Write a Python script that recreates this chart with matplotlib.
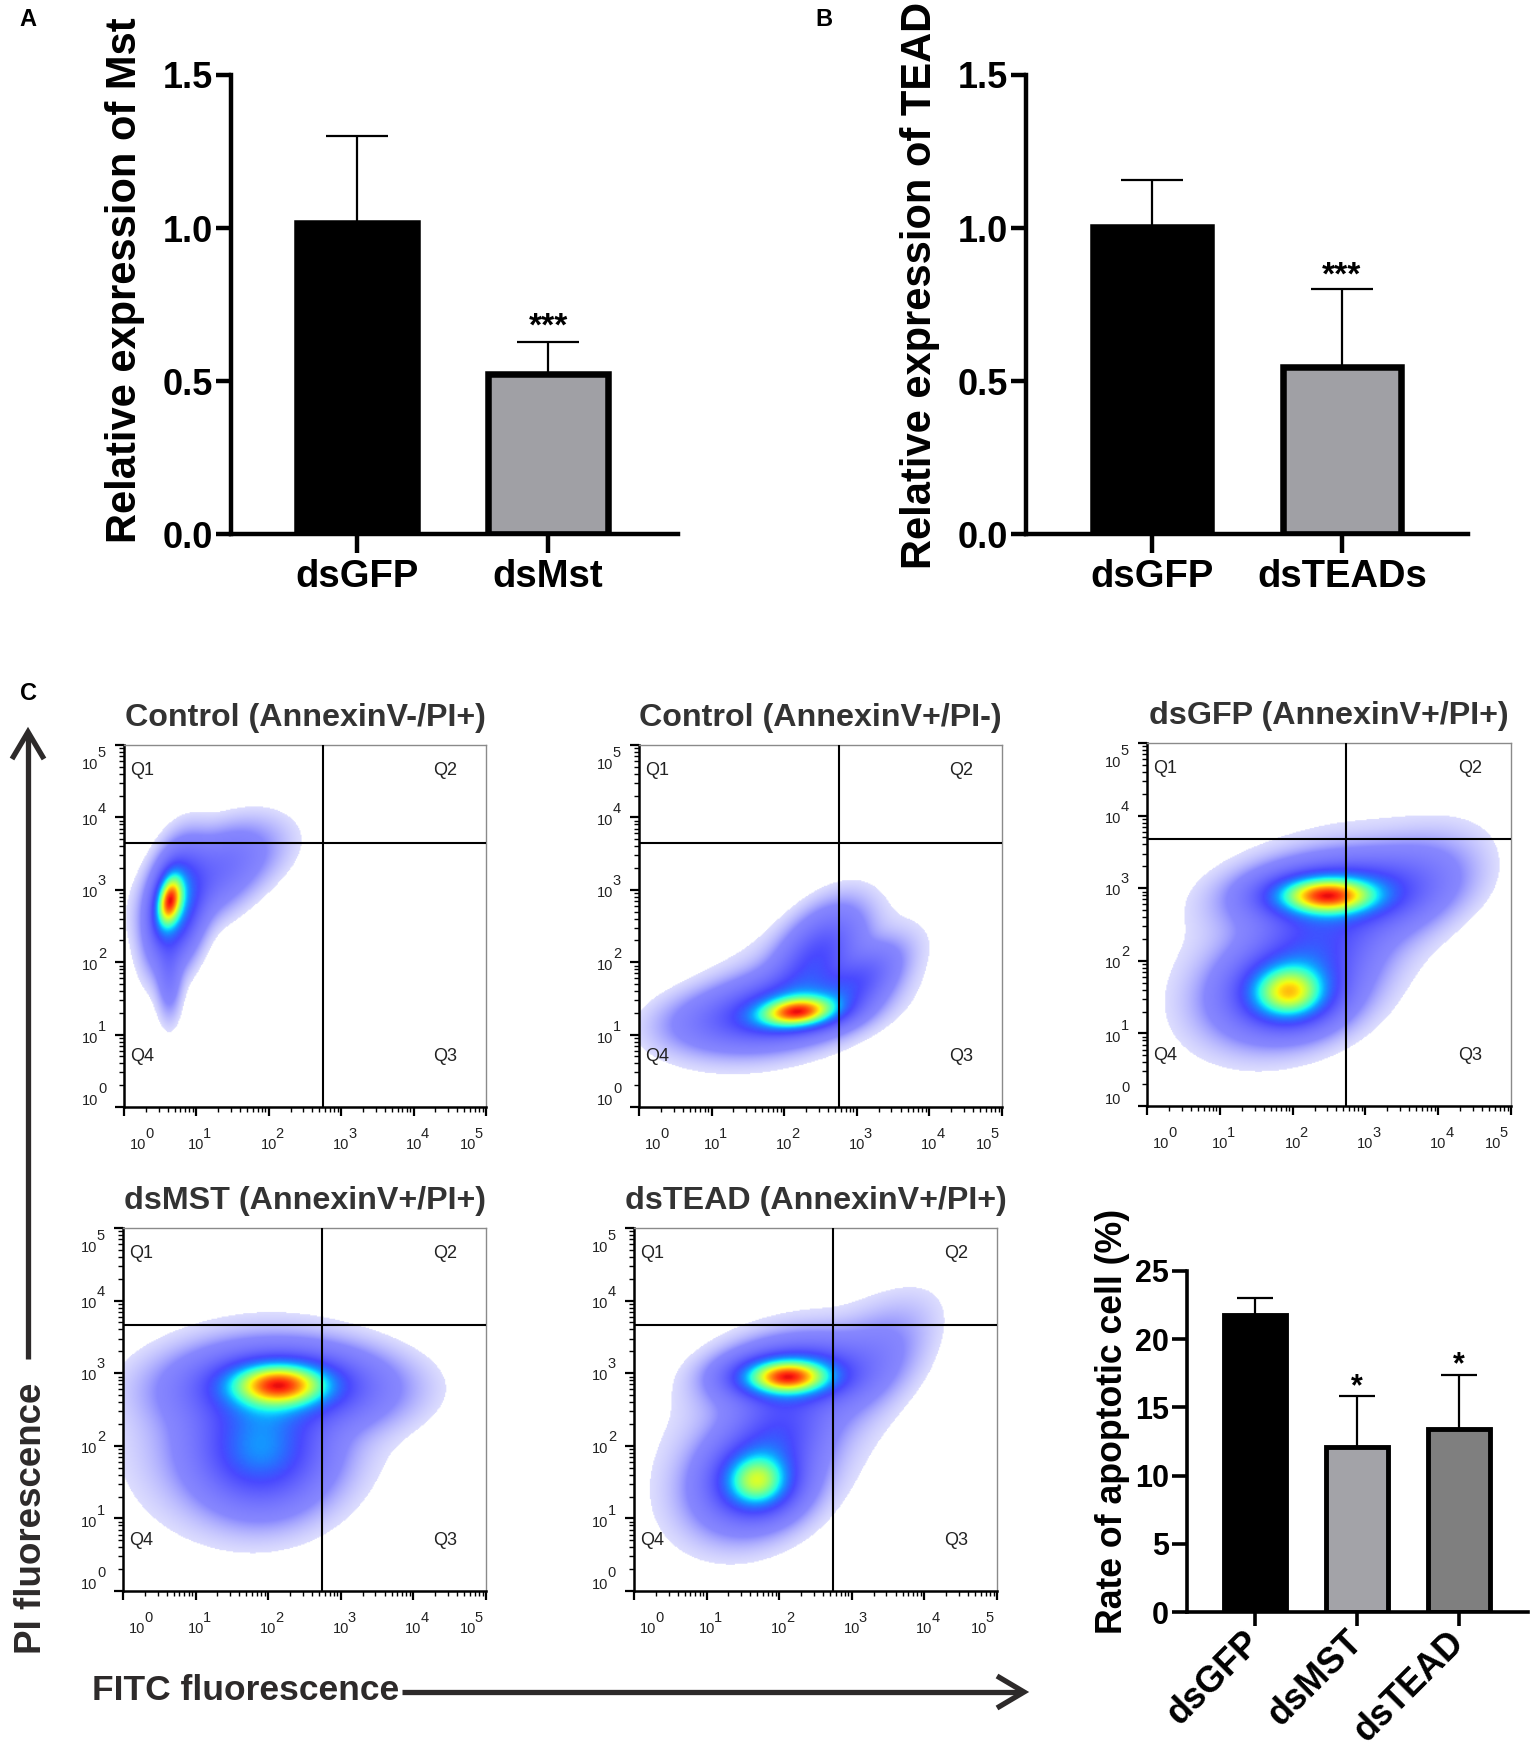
import numpy as np
import matplotlib
matplotlib.use("Agg")
import matplotlib.pyplot as plt
from matplotlib.lines import Line2D

plt.rcParams['font.family'] = ['Liberation Sans', 'DejaVu Sans']

W, H = 1535, 1748
fig = plt.figure(figsize=(W / 100, H / 100), dpi=100)

# ---------------- data ----------------
a_cats = ['dsGFP', 'dsMst']
a_vals = [1.015, 0.524]
a_errs = [0.285, 0.102]
a_stars = ['', '***']

b_cats = ['dsGFP', 'dsTEADs']
b_vals = [1.004, 0.546]
b_errs = [0.153, 0.254]
b_stars = ['', '***']

c_cats = ['dsGFP', 'dsMST', 'dsTEAD']
c_vals = [21.8, 12.1, 13.4]
c_errs = [1.2, 3.7, 4.0]
c_stars = ['', '*', '*']

expr_yticks = [0.0, 0.5, 1.0, 1.5]
rate_yticks = [0, 5, 10, 15, 20, 25]

flow_titles = ['Control (AnnexinV-/PI+)', 'Control (AnnexinV+/PI-)',
               'dsGFP (AnnexinV+/PI+)', 'dsMST (AnnexinV+/PI+)',
               'dsTEAD (AnnexinV+/PI+)']
quadrant_names = ['Q1', 'Q2', 'Q3', 'Q4']
decade_exponents = ['0', '1', '2', '3', '4', '5']
gate_x = [2.75, 2.75, 2.74, 2.74, 2.74]   # log10 FITC gate
gate_y = [3.65, 3.65, 3.68, 3.66, 3.66]   # log10 PI gate

# flow populations (log10 units):
# (centre FITC, centre PI, spread FITC, spread PI, correlation, relative height)
pop_control_pi = [(0.62, 2.85, 0.12, 0.25, 0.3, 1.00),
                  (0.72, 2.75, 0.22, 0.45, 0.3, 0.50),
                  (1.15, 3.15, 0.45, 0.38, 0.5, 0.16),
                  (0.62, 1.80, 0.10, 0.35, 0.0, 0.10),
                  (1.60, 3.50, 0.45, 0.30, 0.3, 0.04)]
pop_control_annexin = [(2.20, 1.30, 0.35, 0.14, 0.2, 1.00),
                       (2.00, 1.35, 0.60, 0.28, 0.35, 0.45),
                       (2.45, 2.05, 0.35, 0.40, 0.5, 0.30),
                       (3.00, 1.70, 0.35, 0.30, 0.6, 0.22),
                       (1.00, 1.20, 0.50, 0.25, 0.2, 0.07),
                       (2.20, 1.60, 0.90, 0.60, 0.5, 0.04)]
pop_dsgfp = [(2.45, 2.90, 0.45, 0.17, 0.0, 1.00),
             (2.60, 2.95, 0.70, 0.28, 0.2, 0.40),
             (1.95, 1.55, 0.35, 0.25, 0.0, 0.80),
             (1.90, 1.60, 0.55, 0.38, 0.2, 0.33),
             (2.30, 2.20, 0.50, 0.45, 0.3, 0.25),
             (3.40, 2.90, 0.60, 0.45, 0.5, 0.12),
             (2.20, 2.30, 1.00, 0.90, 0.4, 0.04)]
pop_dsmst = [(2.15, 2.85, 0.45, 0.20, 0.0, 1.00),
             (2.20, 2.80, 0.80, 0.32, 0.0, 0.45),
             (1.90, 1.95, 0.50, 0.45, 0.0, 0.50),
             (1.80, 2.20, 0.90, 0.75, 0.1, 0.08)]
pop_dstead = [(2.10, 2.95, 0.40, 0.16, 0.0, 1.00),
              (2.20, 3.00, 0.55, 0.27, 0.2, 0.40),
              (1.70, 1.50, 0.30, 0.25, 0.0, 0.65),
              (1.65, 1.55, 0.45, 0.40, 0.2, 0.33),
              (2.00, 2.20, 0.40, 0.40, 0.3, 0.22),
              (3.20, 3.10, 0.50, 0.50, 0.6, 0.08),
              (1.90, 2.20, 0.90, 0.90, 0.4, 0.04)]
flow_pops = [pop_control_pi, pop_control_annexin, pop_dsgfp, pop_dsmst, pop_dstead]

# ---------------- helpers ----------------
DARK = '#2d2a2a'


def px_ax(l, t, r, b):
    return fig.add_axes([l / W, 1 - b / H, (r - l) / W, (b - t) / H])


def bar_panel(ax, cats, vals, errs, stars, colors, width, lw, capsize,
              ylim, yticks, ytick_fmt, xlim, tick_fs, cat_fs, star_fs,
              star_off, rotate=False):
    x = np.arange(len(cats))
    ax.bar(x, vals, width=width, color=colors, edgecolor='black',
           linewidth=lw, zorder=2)
    ax.errorbar(x, vals, yerr=[np.zeros(len(vals)), errs], fmt='none',
                ecolor='black', elinewidth=1.6, capsize=capsize,
                capthick=1.6, zorder=1)
    for xi, v, e, s in zip(x, vals, errs, stars):
        if s:
            ax.text(xi, v + e + star_off, s, ha='center', va='center',
                    fontsize=star_fs, fontweight='bold')
    ax.set_xlim(*xlim)
    ax.set_ylim(*ylim)
    ax.set_yticks(yticks)
    ax.set_yticklabels([ytick_fmt.format(t) for t in yticks],
                       fontsize=tick_fs, fontweight='bold')
    ax.set_xticks(x)
    if rotate:
        ax.set_xticklabels(cats, fontsize=cat_fs, fontweight='bold',
                           rotation=45, ha='right', va='center',
                           rotation_mode='anchor')
    else:
        ax.set_xticklabels(cats, fontsize=cat_fs, fontweight='bold')
    for s in ['top', 'right']:
        ax.spines[s].set_visible(False)
    for s in ['left', 'bottom']:
        ax.spines[s].set_linewidth(3.2)
    ax.tick_params(axis='y', length=11, width=3.2, pad=2)
    ax.tick_params(axis='x', length=14, width=3.2, pad=4)
    ax.spines['left'].set_bounds(ylim[0], ylim[1])


# ---------------- panel A ----------------
axA = px_ax(231, 75, 678, 534)
bar_panel(axA, a_cats, a_vals, a_errs, a_stars, ['black', '#a0a0a5'],
          0.625, 4.7, 22, (0, 1.5), expr_yticks, '{:.1f}', (-0.66, 1.68),
          26, 27.5, 24, 0.05)
fig.text(125 / W, 1 - 280 / H, 'Relative expression of Mst', rotation=90,
         ha='center', va='center', fontsize=30, fontweight='bold')

# ---------------- panel B ----------------
axB = px_ax(1026, 75, 1468, 534)
bar_panel(axB, b_cats, b_vals, b_errs, b_stars, ['black', '#a0a0a5'],
          0.625, 4.7, 22, (0, 1.5), expr_yticks, '{:.1f}', (-0.663, 1.663),
          26, 27.5, 24, 0.042)
fig.text(920 / W, 1 - 285 / H, 'Relative expression of TEAD', rotation=90,
         ha='center', va='center', fontsize=30, fontweight='bold')

# ---------------- panel C bar ----------------
axC = px_ax(1187, 1271, 1528, 1612)
bar_panel(axC, c_cats, c_vals, c_errs, c_stars,
          ['black', '#a3a3a8', '#7f7f7f'], 0.6, 3.5, 13, (0, 25),
          rate_yticks, '{:d}', (-0.667, 2.676), 22, 26, 22, 0.7,
          rotate=True)
for s in ['left', 'bottom']:
    axC.spines[s].set_linewidth(2.6)
axC.tick_params(axis='y', length=11, width=2.6)
axC.tick_params(axis='x', length=10, width=2.6, pad=8)
fig.text(1112 / W, 1 - 1421 / H, 'Rate of apoptotic cell (%)', rotation=90,
         ha='center', va='center', fontsize=25.7, fontweight='bold')

# ---------------- flow plots ----------------
flow_rects = [(124, 745, 486, 1107), (639, 745, 1002, 1107),
              (1147, 743, 1511, 1106), (123, 1228, 486, 1591),
              (634, 1228, 997, 1591)]
xlab_pos = [0.2, 1.0, 2.0, 3.0, 4.0, 4.75]
ylab_pos = [0.08, 0.94, 1.95, 2.96, 3.95, 4.72]

grid = np.linspace(0, 5, 320)
GX, GY = np.meshgrid(grid, grid)
jet = plt.get_cmap('jet')
narrow = ['Liberation Sans Narrow', 'Liberation Sans', 'DejaVu Sans']
PT = 0.72  # points per pixel at 100 dpi

for i, rect in enumerate(flow_rects):
    ax = px_ax(*rect)
    dens = np.zeros_like(GX)
    for cx, cy, sx, sy, rho, amp in flow_pops[i]:
        dx = (GX - cx) / sx
        dy = (GY - cy) / sy
        q = (dx ** 2 - 2 * rho * dx * dy + dy ** 2) / (1 - rho ** 2)
        dens += amp * np.exp(-0.5 * q)
    d = dens / dens.max()
    cidx = 0.11 + 0.8 * np.clip((d - 0.2) / 0.8, 0, 1) ** 1.1
    rgba = jet(cidx)
    alpha = np.clip(d / 0.04, 0, 1) ** 0.6 * (0.42 + 0.53 * np.clip(d / 0.4, 0, 1))
    alpha[d < 0.006] = 0
    rgba[..., 3] = alpha
    ax.imshow(rgba, extent=(0, 5, 0, 5), origin='lower',
              interpolation='bilinear', aspect='auto', zorder=1)
    ax.axvline(gate_x[i], color='black', lw=1.5, zorder=3)
    ax.axhline(gate_y[i], color='black', lw=1.5, zorder=3)
    ax.set_xlim(0, 5)
    ax.set_ylim(0, 5)
    ax.set_xticks(range(6))
    ax.set_yticks(range(6))
    minors = [dd + np.log10(k) for dd in range(5) for k in range(2, 10)]
    ax.set_xticks(minors, minor=True)
    ax.set_yticks(minors, minor=True)
    ax.set_xticklabels([])
    ax.set_yticklabels([])
    ax.tick_params(which='major', direction='out', length=6.5, width=1.6,
                   color='black')
    ax.tick_params(which='minor', direction='out', length=3.5, width=1.0,
                   color='black')
    for s in ['left', 'bottom']:
        ax.spines[s].set_linewidth(1.8)
        ax.spines[s].set_color('black')
    for s in ['top', 'right']:
        ax.spines[s].set_linewidth(1.0)
        ax.spines[s].set_color('#8a8a8a')
    # decade labels
    for p, e in zip(xlab_pos, decade_exponents):
        ax.annotate('10', xy=(p, 0), xycoords=ax.get_xaxis_transform(),
                    xytext=(0, -38 * PT), textcoords='offset points',
                    ha='center', va='center', fontsize=10.5, family=narrow,
                    color='#222222')
        ax.annotate(e, xy=(p, 0), xycoords=ax.get_xaxis_transform(),
                    xytext=(11 * PT, -27 * PT), textcoords='offset points',
                    ha='center', va='center', fontsize=10.5, family=narrow,
                    color='#222222')
    for p, e in zip(ylab_pos, decade_exponents):
        ax.annotate('10', xy=(0, p), xycoords=ax.get_yaxis_transform(),
                    xytext=(-34 * PT, 0), textcoords='offset points',
                    ha='center', va='center', fontsize=10.5, family=narrow,
                    color='#222222')
        ax.annotate(e, xy=(0, p), xycoords=ax.get_yaxis_transform(),
                    xytext=(-22 * PT, 12 * PT), textcoords='offset points',
                    ha='center', va='center', fontsize=10.5, family=narrow,
                    color='#222222')
    # quadrant names
    qkw = dict(fontsize=13, color='#222222', va='center', zorder=4)
    ax.text(0.09, 4.65, quadrant_names[0], ha='left', **qkw)
    ax.text(4.6, 4.65, quadrant_names[1], ha='right', **qkw)
    ax.text(4.6, 0.70, quadrant_names[2], ha='right', **qkw)
    ax.text(0.09, 0.70, quadrant_names[3], ha='left', **qkw)
    ax.annotate(flow_titles[i], xy=(0.5, 1), xycoords='axes fraction',
                xytext=(0, 27 * PT), textcoords='offset points',
                ha='center', va='center', fontsize=23.2, fontweight='bold',
                color='#333333')

# ---------------- axis arrows & labels ----------------
def fig_line(xs, ys, lw):
    fig.add_artist(Line2D([x / W for x in xs], [1 - y / H for y in ys],
                          transform=fig.transFigure, color=DARK, lw=lw,
                          solid_capstyle='butt', solid_joinstyle='miter'))

fig_line([28, 28], [1359, 733], 3.8)
fig_line([12, 28, 44], [759, 732, 759], 3.8)
fig_line([402, 1022], [1692, 1692], 3.8)
fig_line([997, 1024, 997], [1676, 1692, 1708], 3.8)

fig.text(32 / W, 1 - 1518 / H, 'PI fluorescence', rotation=90,
         ha='center', va='center', fontsize=26.5, fontweight='bold', color=DARK)
fig.text(399 / W, 1 - 1690 / H, 'FITC fluorescence', ha='right',
         va='center', fontsize=25.5, fontweight='bold', color=DARK)

# panel letters
for letter, (px, py) in zip(['A', 'B', 'C'], [(28, 20), (824, 20), (29, 694)]):
    fig.text(px / W, 1 - py / H, letter, ha='center', va='center',
             fontsize=17, fontweight='bold')

fig.savefig('out.png', dpi=100)
